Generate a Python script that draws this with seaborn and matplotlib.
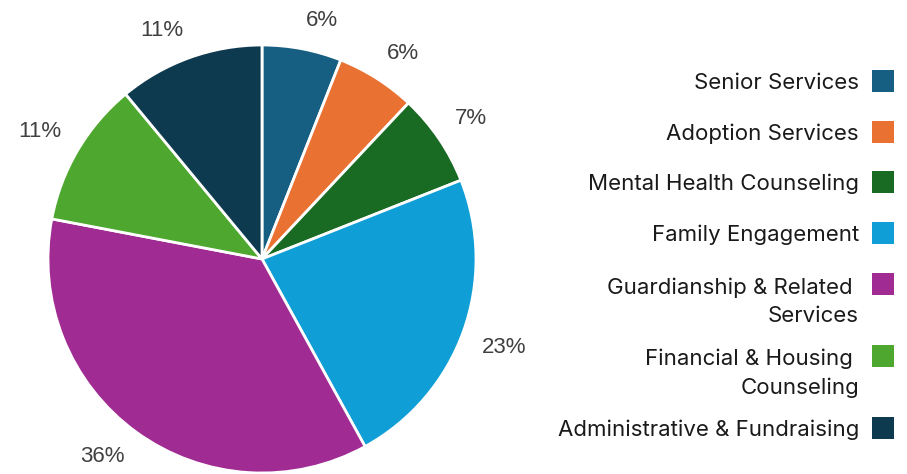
import numpy as np
import matplotlib
matplotlib.use("Agg")
import matplotlib.pyplot as plt
from matplotlib.patches import Rectangle
import seaborn as sns

# chart data
categories = [
    "Senior Services",
    "Adoption Services",
    "Mental Health Counseling",
    "Family Engagement",
    "Guardianship & Related \nServices",
    "Financial & Housing \nCounseling",
    "Administrative & Fundraising",
]
shares = [6, 6, 7, 23, 36, 11, 11]
colors = ["#175F82", "#E97132", "#196B24", "#0F9ED5", "#A02B93", "#4EA72E", "#0E3A4F"]

sns.set_theme(style="white")
plt.rcParams["font.family"] = ["Liberation Sans", "DejaVu Sans"]

W, H = 907, 474
fig = plt.figure(figsize=(W / 100, H / 100), dpi=100)

# pie axes: circle centred at (262, 259) px, radius 214
cx, cy, rad = 262, 259, 214
ax = fig.add_axes([(cx - rad) / W, (H - cy - rad) / H, 2 * rad / W, 2 * rad / H])
wedges, _ = ax.pie(
    shares,
    colors=colors,
    startangle=90,
    counterclock=False,
    wedgeprops=dict(edgecolor="white", linewidth=2, clip_on=False),
)
ax.set_xlim(-1, 1)
ax.set_ylim(-1, 1)
ax.set_aspect("equal")
ax.axis("off")

# percentage labels just outside each wedge (label box corner at the anchor)
for w, v in zip(wedges, shares):
    ang = np.deg2rad((w.theta1 + w.theta2) / 2)
    c, s = np.cos(ang), np.sin(ang)
    ax.annotate(f"{v}%", xy=(1.09 * c, 1.09 * s), xytext=(0, 6.5 * np.sign(s)),
                textcoords="offset points", ha="left" if c > 0 else "right",
                va="center", fontsize=16, color="#404040", annotation_clip=False)

# legend drawn on the right, text right-aligned, square after the text
text_right = 859 / W
sq = 22
line_step = 30
y = 81
for lab, col in zip(categories, colors):
    extra = lab.count("\n")
    # va="baseline" on multi-line text anchors the last line
    fig.text(text_right, 1 - (y + 8 + line_step * extra) / H, lab, ha="right",
             va="baseline", multialignment="right", fontsize=16, color="#1a1a1a",
             family=["Inter", "DejaVu Sans"], linespacing=1.51)
    fig.add_artist(Rectangle((872 / W, 1 - (y + sq / 2) / H), sq / W, sq / H,
                             transform=fig.transFigure, facecolor=col, edgecolor="none"))
    y += 50.7 + 21.5 * extra

fig.savefig("out.png", dpi=100)
